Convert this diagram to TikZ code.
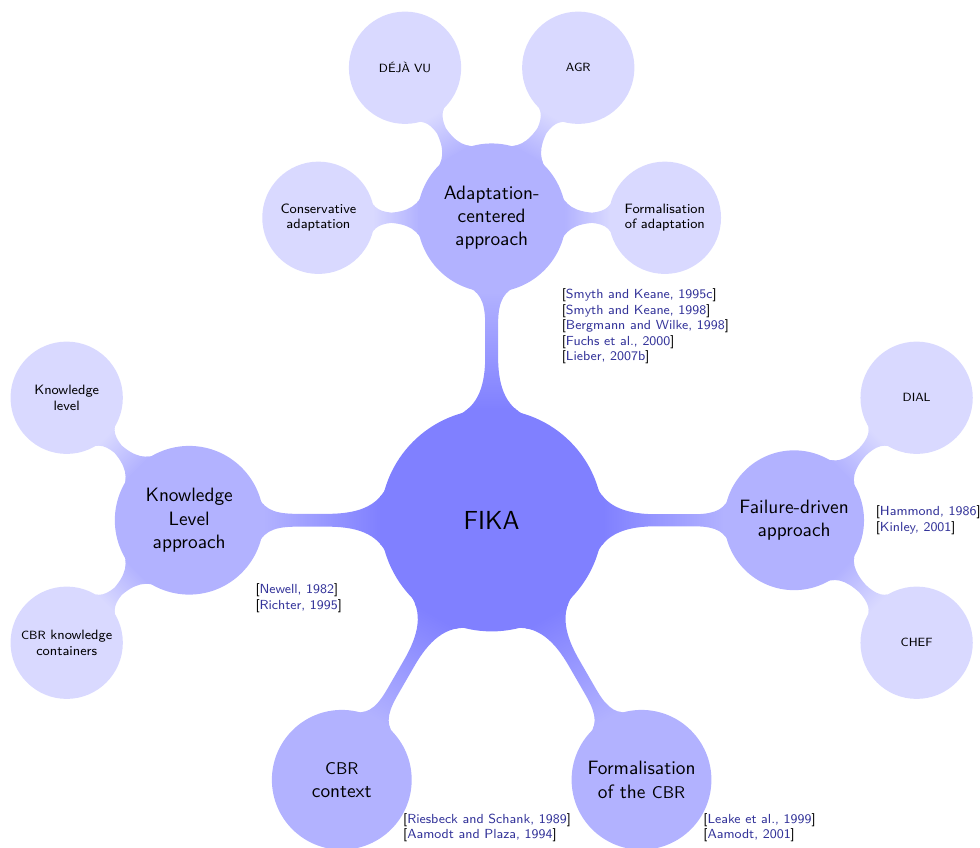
\documentclass[tikz,border=0pt]{standalone}
\usepackage{graphicx}
\usepackage{xcolor}
\usepackage{tikz}
\usetikzlibrary{mindmap}

\definecolor{citeblue}{rgb}{0.2,0.2,0.6}
\newcommand{\fakesc}[1]{\scalebox{0.88}{#1}}
\newcommand{\citeref}[1]{[{\color{citeblue}#1}]}

\begin{document}
\begin{tikzpicture}[font=\sffamily, text=black,
    rootc/.style={concept color=blue!50, concept, minimum size=4cm, text width=3.5cm, font=\sffamily\fontsize{13.5}{16}\selectfont},
    lvlone/.style={concept color=blue!30, concept, minimum size=2.5cm, text width=2.3cm, font=\sffamily\normalsize},
    lvltwo/.style={concept color=blue!15, concept, minimum size=2cm, text width=1.8cm, font=\sffamily\scriptsize},
    cites/.style={rectangle, inner sep=0pt, minimum size=0pt, align=left, font=\sffamily\fontsize{6.8}{8}\selectfont},
    barone/.style={circle connection bar switch color=from (blue!50) to (blue!30)},
    bartwo/.style={circle connection bar switch color=from (blue!30) to (blue!15)}]
    \useasboundingbox (-8.94,-5.95) rectangle (8.88,9.46);
    \begin{scope}[mindmap]
    % root and main branches
    \node[rootc] (fika) at (0,0) {FIKA};
    \node[lvlone] (adapt) at (90:5.5) {Adaptation-\\centered\\approach};
    \node[lvlone] (klevel) at (180:5.5) {Knowledge\\Level\\approach};
    \node[lvlone] (failure) at (0:5.5) {Failure-driven\\approach};
    \node[lvlone] (cbrctx) at (240:5.45) {\fakesc{CBR}\\context};
    \node[lvlone] (formal) at (300:5.45) {Formalisation\\of the \fakesc{CBR}};
    % leaves
    \node[lvltwo] (dejavu) at ([shift={(120:3.15)}]adapt.center) {\fakesc{DÉJÀ VU}};
    \node[lvltwo] (agr) at ([shift={(60:3.15)}]adapt.center) {\fakesc{AGR}};
    \node[lvltwo] (conserv) at ([shift={(180:3.15)}]adapt.center) {Conservative\\adaptation};
    \node[lvltwo] (formadapt) at ([shift={(0:3.15)}]adapt.center) {Formalisation\\of adaptation};
    \node[lvltwo] (klvl) at ([shift={(135:3.15)}]klevel.center) {Knowledge\\level};
    \node[lvltwo] (containers) at ([shift={(225:3.15)}]klevel.center) {\fakesc{CBR} knowledge\\containers};
    \node[lvltwo] (dial) at ([shift={(45:3.15)}]failure.center) {\fakesc{DIAL}};
    \node[lvltwo] (chef) at ([shift={(-45:3.15)}]failure.center) {\fakesc{CHEF}};
    % bars
    \path (fika) to[barone] (adapt);
    \path (fika) to[barone] (klevel);
    \path (fika) to[barone] (failure);
    \path (fika) to[barone] (cbrctx);
    \path (fika) to[barone] (formal);
    \path (adapt) to[bartwo] (dejavu);
    \path (adapt) to[bartwo] (agr);
    \path (adapt) to[bartwo] (conserv);
    \path (adapt) to[bartwo] (formadapt);
    \path (klevel) to[bartwo] (klvl);
    \path (klevel) to[bartwo] (containers);
    \path (failure) to[bartwo] (dial);
    \path (failure) to[bartwo] (chef);
    \end{scope}
    % references
    \node[cites, anchor=north west] (adaptcites) at ([shift={(1.27,-1.29)}]adapt.center)
        {\citeref{Smyth and Keane, 1995c}\\\citeref{Smyth and Keane, 1998}\\\citeref{Bergmann and Wilke, 1998}\\\citeref{Fuchs et al., 2000}\\\citeref{Lieber, 2007b}};
    \node[cites, anchor=north west] (klevelcites) at ([shift={(1.2,-1.15)}]klevel.center)
        {\citeref{Newell, 1982}\\\citeref{Richter, 1995}};
    \node[cites, anchor=west] (failurecites) at ([shift={(1.48,0)}]failure.center)
        {\citeref{Hammond, 1986}\\\citeref{Kinley, 2001}};
    \node[cites, anchor=north west] (cbrctxcites) at ([shift={(1.11,-0.6)}]cbrctx.center)
        {\citeref{Riesbeck and Schank, 1989}\\\citeref{Aamodt and Plaza, 1994}};
    \node[cites, anchor=north west] (formalcites) at ([shift={(1.12,-0.6)}]formal.center)
        {\citeref{Leake et al., 1999}\\\citeref{Aamodt, 2001}};
\end{tikzpicture}
\end{document}
